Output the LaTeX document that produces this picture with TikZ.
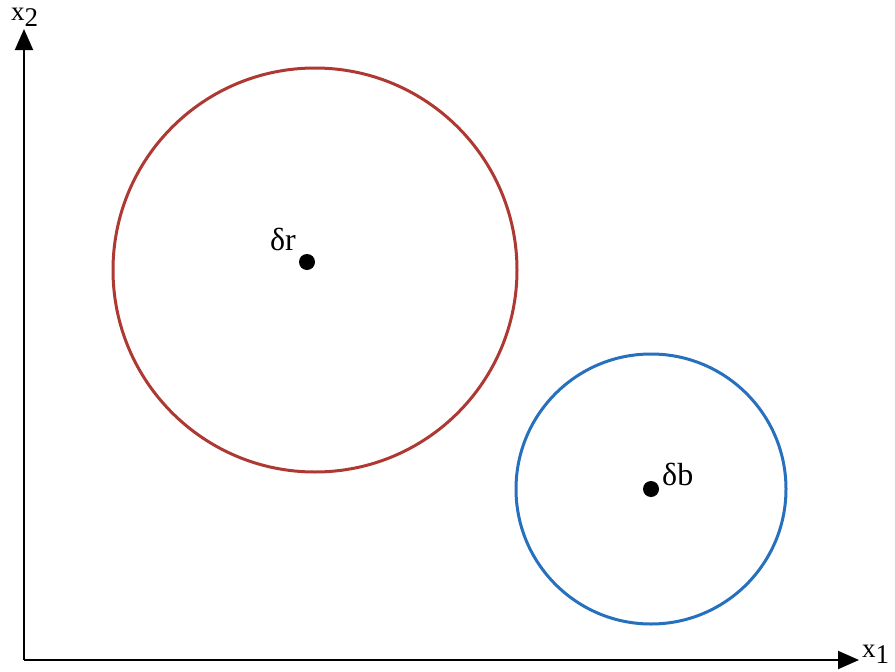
\documentclass[tikz,border=0pt]{standalone}
\usepackage{fontspec}
\setmainfont{Liberation Serif}
\usetikzlibrary{arrows.meta, positioning}
\definecolor{clred}{RGB}{174, 56, 50}
\definecolor{clblue}{RGB}{38, 112, 190}
\newcommand{\axsub}[1]{\raisebox{-6pt}{#1}}
\tikzset{
  axis/.style={-{Triangle[length=21pt, width=18pt]}, line width=2pt, black},
  centre/.style={circle, fill=black, inner sep=0pt, minimum size=16pt},
  axlabel/.style={font=\fontsize{27}{29}\selectfont, inner sep=0pt},
  dlabel/.style={font=\fontsize{32}{34}\selectfont, inner sep=0pt},
}
\begin{document}
\begin{tikzpicture}[x=1pt, y=-1pt]
  \useasboundingbox (0,0) rectangle (895,672);
  % axes
  \coordinate (O) at (24,660);
  \coordinate (xend) at (859,660);
  \coordinate (yend) at (24,29);
  \draw[axis] (O) -- (xend);
  \draw[axis] (O) -- (yend);
  \node[axlabel, anchor=base west] (xlab) at (862,657) {x\axsub{1}};
  \node[axlabel, anchor=base west] (ylab) at (11,20) {x\axsub{2}};
  % clusters
  \draw[clred, line width=3pt] (315,270) circle[radius=202];
  \draw[clblue, line width=3pt] (651,489) circle[radius=135];
  \node[centre] (dr) at (307,262) {};
  \node[centre] (db) at (651,489) {};
  \node[dlabel, anchor=base east] (drlab) at (296,250) {δr};
  \node[dlabel, anchor=base west] (dblab) at (662,485) {δb};
\end{tikzpicture}
\end{document}
